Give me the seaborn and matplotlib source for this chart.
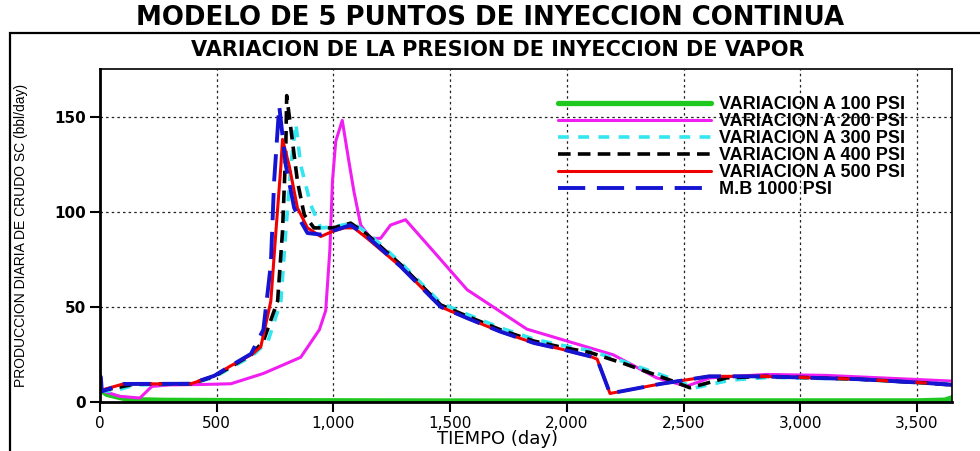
import matplotlib
matplotlib.use("Agg")
import matplotlib.pyplot as plt
import seaborn as sns
from matplotlib.patches import Rectangle

# --- data (time in days, oil rate in bbl/day) ---
t_100 = [0, 30, 80, 127, 200, 272, 500, 800, 1200, 2000, 2500, 3000, 3500, 3620, 3650]
q_100 = [6.5, 4.0, 2.5, 1.2, 1.1, 0.9, 0.8, 0.7, 0.6, 0.5, 0.6, 0.6, 0.6, 1.0, 2.2]

t_200 = [0, 20, 84, 171, 193, 222, 300, 433, 561, 700, 860, 940, 967, 985, 996, 1010, 1038,
         1067, 1088, 1117, 1160, 1202, 1245, 1309, 1430, 1573, 1829, 2043, 2199, 2385, 2513,
         2613, 2855, 3111, 3650]
q_200 = [6.0, 5.5, 3.0, 2.1, 4.7, 8.2, 9.0, 9.2, 9.6, 15.0, 23.5, 38.0, 48.0, 80.0, 116.0,
         137.0, 148.0, 126.0, 110.6, 93.0, 86.0, 86.0, 93.0, 95.8, 79.0, 59.0, 38.3, 30.5,
         24.8, 12.7, 8.3, 12.7, 14.5, 14.0, 11.0]

t_300 = [0, 55, 150, 390, 490, 560, 650, 720, 775, 796, 818, 839, 860, 903, 946, 1000, 1081,
         1145, 1290, 1460, 1575, 1715, 1860, 1970, 2100, 2250, 2456, 2550, 2700, 2870, 3250,
         3540, 3650]
q_300 = [6.0, 5.6, 9.0, 9.6, 13.0, 18.0, 24.0, 32.0, 53.0, 89.7, 124.5, 146.3, 124.5, 103.6,
         91.5, 92.0, 94.0, 89.0, 73.0, 52.0, 46.0, 39.0, 33.0, 30.0, 27.0, 21.0, 12.0, 7.5,
         11.5, 13.0, 12.0, 10.0, 9.5]

t_400 = [0, 50, 150, 390, 490, 560, 650, 700, 761, 782, 796, 800, 846, 875, 917, 1000, 1074,
         1145, 1290, 1460, 1575, 1715, 1860, 1970, 2100, 2250, 2456, 2527, 2684, 2855, 3250,
         3540, 3650]
q_400 = [6.0, 7.0, 9.5, 9.6, 13.5, 18.5, 25.0, 32.0, 53.0, 89.7, 133.0, 161.0, 116.0, 98.4,
         91.5, 91.5, 94.0, 88.0, 72.0, 51.0, 45.0, 38.0, 32.0, 29.0, 26.0, 20.0, 10.9, 7.5,
         12.7, 13.5, 12.0, 10.0, 9.0]

t_500 = [0, 100, 390, 490, 560, 650, 689, 732, 754, 775, 782, 811, 846, 889, 946, 1003, 1046,
         1088, 1145, 1290, 1460, 1575, 1715, 1860, 1970, 2100, 2130, 2185, 2400, 2610, 2830,
         3250, 3540, 3650]
q_500 = [6.0, 9.5, 9.6, 13.8, 19.0, 25.0, 29.0, 53.0, 90.0, 124.0, 138.0, 124.0, 102.0, 91.5,
         87.0, 90.0, 91.5, 91.5, 86.0, 71.0, 50.0, 44.0, 37.0, 31.0, 28.0, 24.0, 22.5, 4.5,
         9.5, 13.5, 13.5, 12.0, 10.0, 9.0]

t_1000 = [0, 4, 8, 100, 390, 490, 560, 647, 700, 732, 746, 768, 796, 832, 860, 889, 946, 1000,
          1074, 1145, 1290, 1460, 1575, 1715, 1860, 1970, 2100, 2130, 2185, 2400, 2610, 2830,
          3250, 3540, 3650]
q_1000 = [14.0, 13.0, 5.6, 9.5, 9.6, 13.8, 19.0, 25.3, 38.0, 72.3, 115.8, 155.6, 124.5, 102.0,
          95.0, 88.8, 88.0, 90.0, 93.0, 87.0, 71.0, 50.0, 44.0, 37.0, 31.0, 28.0, 24.0, 22.5,
          4.5, 9.5, 13.5, 13.5, 12.0, 10.0, 9.0]

labels = ["VARIACION A 100 PSI", "VARIACION A 200 PSI", "VARIACION A 300 PSI",
          "VARIACION A 400 PSI", "VARIACION A 500 PSI", "M.B 1000 PSI"]
x_ticks = [0, 500, 1000, 1500, 2000, 2500, 3000, 3500]
x_tick_labels = ["0", "500", "1,000", "1,500", "2,000", "2,500", "3,000", "3,500"]
y_ticks = [0, 50, 100, 150]

series = [
    (t_100, q_100, "#1ec81e", 3.8, "-"),
    (t_200, q_200, "#f01ef0", 2.2, "-"),
    (t_300, q_300, "#33e6f0", 2.6, (0, (3.0, 2.6))),
    (t_400, q_400, "#000000", 2.6, (0, (3.5, 2.0))),
    (t_500, q_500, "#f00000", 2.2, "-"),
    (t_1000, q_1000, "#1414d2", 2.8, (0, (7.0, 3.0))),
]

sns.set_style("white")
plt.rcParams["font.family"] = ["DejaVu Sans"]
plt.rcParams["text.color"] = "black"
plt.rcParams["axes.labelcolor"] = "black"
plt.rcParams["xtick.color"] = "black"
plt.rcParams["ytick.color"] = "black"

fig = plt.figure(figsize=(9.8, 4.51), dpi=100)
ax = fig.add_axes([0.102, 0.1086, 0.8694, 0.7384])

for (t, q, col, lw, ls), lab in zip(series, labels):
    sns.lineplot(x=t, y=q, ax=ax, color=col, linewidth=lw, linestyle=ls,
                 label=lab, sort=False, estimator=None)

ax.set_xlim(0, 3650)
ax.set_ylim(0, 175)
ax.set_xticks(x_ticks)
ax.set_xticklabels(x_tick_labels, fontsize=11)
ax.set_yticks(y_ticks)
ax.set_yticklabels([str(v) for v in y_ticks], fontsize=11, fontweight="bold")
ax.tick_params(axis="both", direction="out", length=7, width=1.5, color="black",
               bottom=True, left=True, pad=3)
ax.grid(True, color="#222222", linestyle=(0, (2, 2.5)), linewidth=0.9)
for side in ["left", "bottom"]:
    ax.spines[side].set_linewidth(2.0)
for side in ["top", "right"]:
    ax.spines[side].set_linewidth(1.2)
for sp in ax.spines.values():
    sp.set_color("black")

ax.set_xlabel("TIEMPO (day)", fontsize=13)
ax.xaxis.set_label_coords(0.467, -0.085)
ax.set_ylabel("PRODUCCION DIARIA DE CRUDO SC (bbl/day)", fontsize=10,
              family=["Liberation Sans", "DejaVu Sans"])
ax.yaxis.set_label_coords(-0.084, 0.5)

leg = ax.legend(loc="upper right", bbox_to_anchor=(0.953, 0.94), frameon=False,
                handlelength=8.5, handletextpad=0.4, labelspacing=0.0,
                prop={"size": 13, "weight": "bold", "family": ["Liberation Sans", "DejaVu Sans"]},
                borderaxespad=0)

fig.text(0.5, 0.96, "MODELO DE 5 PUNTOS DE INYECCION CONTINUA", ha="center", va="center",
         fontsize=18.7, fontweight="bold")
fig.text(0.508, 0.889, "VARIACION DE LA PRESION DE INYECCION DE VAPOR", ha="center",
         va="center", fontsize=15, fontweight="bold")
fig.patches.append(Rectangle((0.0102, -0.05), 1.2, 0.977, transform=fig.transFigure,
                             fill=False, edgecolor="black", linewidth=1.6))

fig.savefig("out.png", dpi=100)
